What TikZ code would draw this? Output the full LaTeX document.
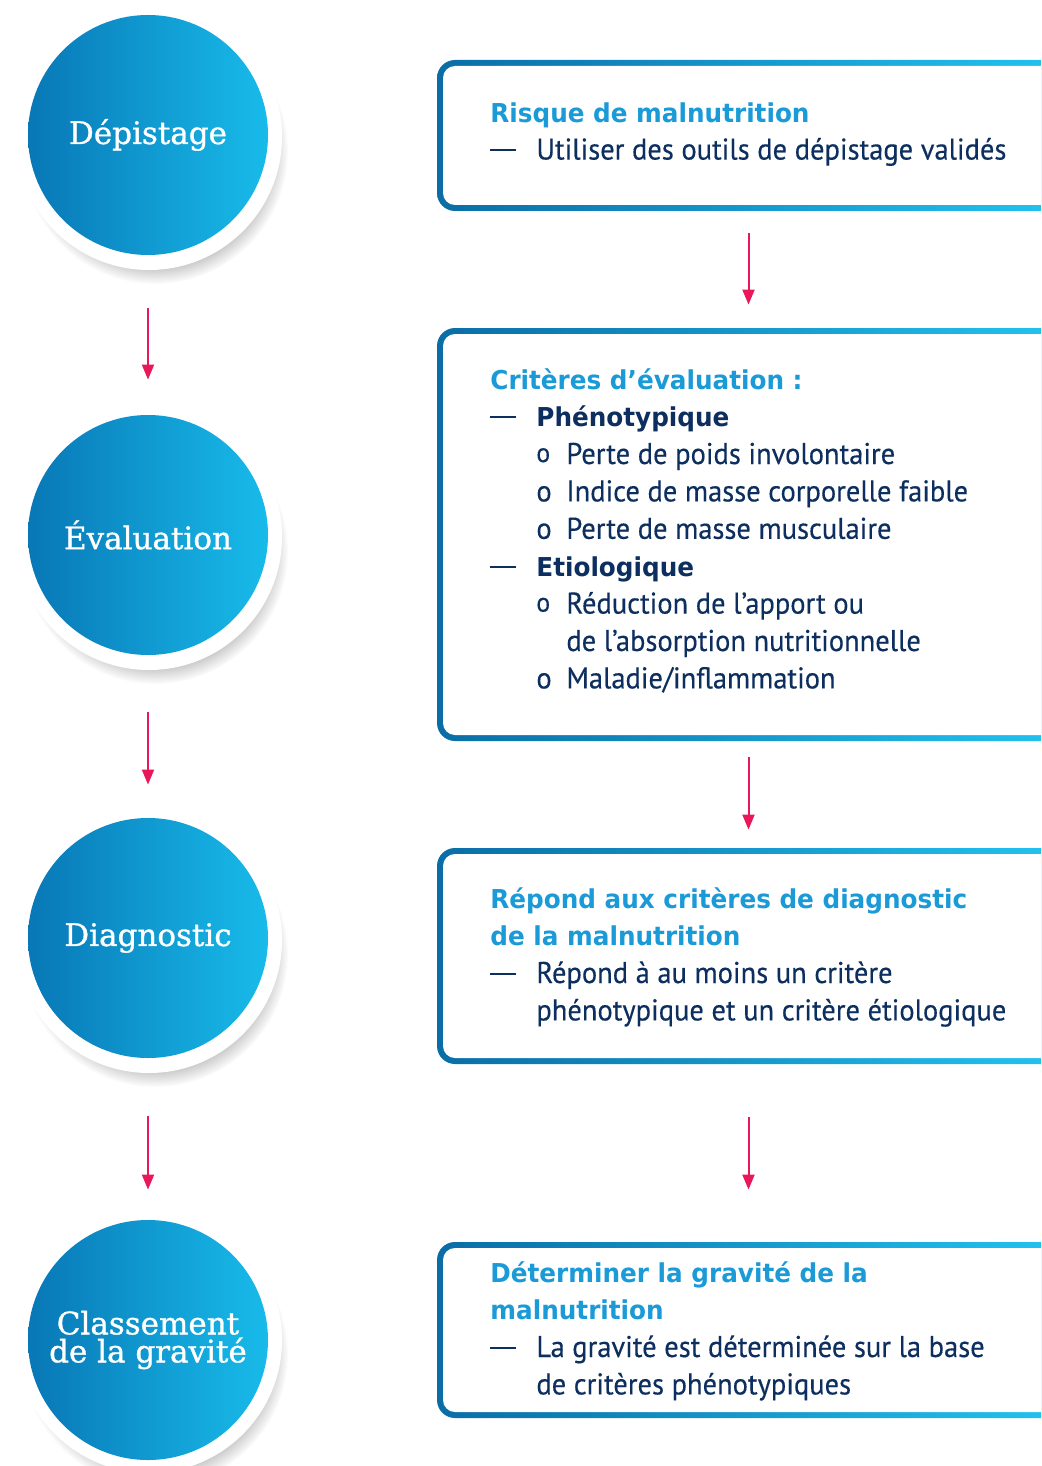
\documentclass[tikz,border=0pt]{standalone}
\usepackage{fontspec}
\usetikzlibrary{calc,shadows,arrows.meta}
\newfontfamily\circfont{DejaVu Serif}[FakeBold=1]
\newfontfamily\headfont{DejaVu Sans}[FakeStretch=0.95]
\newfontfamily\bodyfont{PT Sans}[FakeStretch=0.95,FakeBold=0.3]
\definecolor{darkcyan}{HTML}{0877B6}
\definecolor{lightcyan}{HTML}{18BBEA}
\definecolor{framedark}{HTML}{0A6DA6}
\definecolor{framelight}{HTML}{22C3F1}
\definecolor{titleblue}{HTML}{1A9AD7}
\definecolor{navy}{HTML}{0D2F5F}
\definecolor{arrowpink}{HTML}{E8185A}
\newcommand{\ttl}[1]{{\color{titleblue}\headfont\bfseries\fontsize{13}{18.7}\selectfont #1}}
\newcommand{\hd}[1]{{\headfont\bfseries\fontsize{13}{18.7}\selectfont #1}}
\newcommand{\dash}{\makebox[23pt][l]{\rule[4.2pt]{13pt}{0.9pt}}}
\newcommand{\opt}{\hspace*{23pt}\makebox[15pt][l]{o}}
\newcommand{\optc}{\hspace*{23pt}\makebox[15pt][l]{\raisebox{1pt}{\scalebox{0.9}{o}}}}
\newcommand{\cont}{\hspace*{38pt}}
\tikzset{
  ring/.style={circle, fill=white, minimum size=133pt, inner sep=0pt,
    circular drop shadow={shadow scale=1.0, shadow xshift=3pt, shadow yshift=-7pt, opacity=0.5}},
  stage/.style={circle, minimum size=120pt, inner sep=0pt, left color=darkcyan, right color=lightcyan,
    text=white, align=center, font=\circfont\fontsize{15.5}{14}\selectfont},
  frame/.style={rectangle, rounded corners=9pt, minimum width=311.5pt, inner sep=0pt,
    left color=framedark, right color=framelight},
  pane/.style={rectangle, rounded corners=6pt, minimum width=305.5pt, inner sep=0pt, fill=white},
  txt/.style={anchor=north west, inner sep=0pt, align=left, text=navy,
    font=\bodyfont\fontsize{15}{18.7}\selectfont},
  arr/.style={draw=arrowpink, line width=1pt, -{Triangle[width=6pt,length=7.5pt]}}
}
\begin{document}
\begin{tikzpicture}[x=0.5pt,y=-0.5pt]
  \useasboundingbox (0,0) rectangle (1041,1466);
  \clip (0,0) rectangle (1041,1466);
  % stages
  \foreach \y in {135,535,938,1338}
    \node[ring] at (149,\y+2) {};
  \node[stage] (dep) at (148,135) {Dépistage};
  \node[stage] (eva) at (148,535) {Évaluation};
  \node[stage] (dia) at (148,938) {Diagnostic};
  \node[stage] (cla) at (148,1340) {Classement\\de la gravité};
  \draw[arr] ($(dep.south)+(0,53)$) -- ($(eva.north)+(0,-35)$);
  \draw[arr] ($(eva.south)+(0,57)$) -- ($(dia.north)+(0,-33)$);
  \draw[arr] ($(dia.south)+(0,58)$) -- ($(cla.north)+(0,-30)$);
  % boxes
  \node[frame, minimum height=75.5pt] (b1) at (748.5,135.5) {};
  \node[pane, minimum height=69.5pt] at (b1) {};
  \node[frame, minimum height=206.5pt] (b2) at (748.5,534.5) {};
  \node[pane, minimum height=200.5pt] at (b2) {};
  \node[frame, minimum height=108pt] (b3) at (748.5,956) {};
  \node[pane, minimum height=102pt] at (b3) {};
  \node[frame, minimum height=88pt] (b4) at (748.5,1330) {};
  \node[pane, minimum height=82pt] at (b4) {};
  \draw[arr] ($(b1.south)+(0,22)$) -- ($(b2.north)+(0,-23)$);
  \draw[arr] ($(b2.south)+(0,16)$) -- ($(b3.north)+(0,-18)$);
  \draw[arr] ($(b3.south)+(0,53)$) -- ($(b4.north)+(0,-52)$);
  % texts
  \node[txt] (t1) at (490,102) {\ttl{Risque de malnutrition}\\
    \dash Utiliser des outils de dépistage validés};
  \node[txt] (t2) at (490,368) {\ttl{Critères d’évaluation :}\\
    \dash\hd{Phénotypique}\\
    \optc Perte de poids involontaire\\
    \opt Indice de masse corporelle faible\\
    \opt Perte de masse musculaire\\
    \dash\hd{Etiologique}\\
    \optc Réduction de l’apport ou\\
    \cont de l’absorption nutritionnelle\\
    \opt Maladie/inflammation};
  \node[txt] (t3) at (490,887) {\ttl{Répond aux critères de diagnostic}\\
    \ttl{de la malnutrition}\\
    \dash Répond à au moins un critère\\
    \hspace*{23pt}phénotypique et un critère étiologique};
  \node[txt] (t4) at (490,1261) {\ttl{Déterminer la gravité de la}\\
    \ttl{malnutrition}\\
    \dash La gravité est déterminée sur la base\\
    \hspace*{23pt}de critères phénotypiques};
\end{tikzpicture}
\end{document}
